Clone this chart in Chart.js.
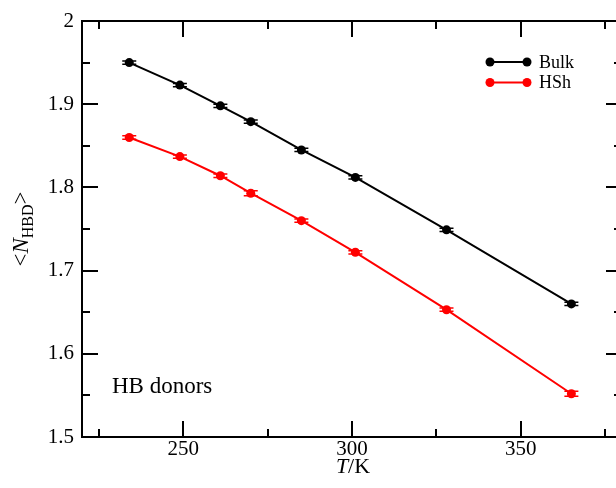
<!DOCTYPE html>
<html>
<head>
<meta charset="utf-8">
<script src="https://cdn.jsdelivr.net/npm/chart.js@4"></script>
<style>
    html, body {
        margin: 0;
        padding: 0;
        background: #ffffff;
        overflow: hidden;
    }
    .plot-box {
        width: 630px;   /* right frame sits just past the window edge */
        height: 488px;
        position: relative;
    }
</style>
</head>
<body>
<div class="plot-box">
    <canvas id="hbdChart"></canvas>
</div>
<script>
// temperatures (K)
const temps = [234, 249, 261, 270, 285, 301, 328, 365];
// average number of H-bond donors
const bulkHbd = [1.950, 1.923, 1.898, 1.879, 1.845, 1.812, 1.749, 1.660];
const hshHbd  = [1.860, 1.837, 1.814, 1.793, 1.760, 1.722, 1.653, 1.552];
// error bars
const bulkErr = [0.002, 0.002, 0.002, 0.002, 0.002, 0.002, 0.002, 0.002];
const hshErr  = [0.002, 0.002, 0.002, 0.003, 0.002, 0.002, 0.002, 0.003];

const xMajorTicks = [250, 300, 350];
const xMinorTicks = [225, 275, 325, 375];
const yMajorTicks = [1.5, 1.6, 1.7, 1.8, 1.9, 2];
const yMinorTicks = [1.55, 1.65, 1.75, 1.85, 1.95];

const seriesNames = ['Bulk', 'HSh'];
const noteText = 'HB donors';

const SERIF = "'Liberation Serif', 'Times New Roman', serif";

function toPoints(ys) {
    return temps.map((t, i) => ({ x: t, y: ys[i] }));
}

// frame, inward ticks on all four sides, error bars, legend and titles
const graceStyle = {
    id: 'graceStyle',
    afterDatasetsDraw(chart) {
        const ctx = chart.ctx;
        const xs = chart.scales.x;
        const ys = chart.scales.y;
        const errs = [bulkErr, hshErr];

        // error bars with caps
        chart.data.datasets.forEach((ds, di) => {
            ctx.save();
            ctx.strokeStyle = ds.borderColor;
            ctx.lineWidth = 1.5;
            ds.data.forEach((p, i) => {
                const px = xs.getPixelForValue(p.x);
                const yHi = ys.getPixelForValue(p.y + errs[di][i]);
                const yLo = ys.getPixelForValue(p.y - errs[di][i]);
                ctx.beginPath();
                ctx.moveTo(px, yHi); ctx.lineTo(px, yLo);
                ctx.moveTo(px - 7, yHi); ctx.lineTo(px + 7, yHi);
                ctx.moveTo(px - 7, yLo); ctx.lineTo(px + 7, yLo);
                ctx.stroke();
            });
            ctx.restore();
        });
    },
    afterDraw(chart) {
        const ctx = chart.ctx;
        const a = chart.chartArea;
        const xs = chart.scales.x;
        const ys = chart.scales.y;

        ctx.save();
        ctx.strokeStyle = '#000';
        ctx.lineWidth = 2;
        ctx.strokeRect(a.left, a.top, a.right - a.left, a.bottom - a.top);

        ctx.lineWidth = 2;
        ctx.beginPath();
        xMajorTicks.concat(xMinorTicks).forEach(v => {
            const len = xMajorTicks.includes(v) ? 16 : 8;
            const px = Math.round(xs.getPixelForValue(v));
            ctx.moveTo(px, a.bottom); ctx.lineTo(px, a.bottom - len);
            ctx.moveTo(px, a.top); ctx.lineTo(px, a.top + len);
        });
        yMajorTicks.concat(yMinorTicks).forEach(v => {
            const len = yMajorTicks.includes(v) ? 16 : 8;
            const py = Math.round(ys.getPixelForValue(v));
            ctx.moveTo(a.left, py); ctx.lineTo(a.left + len, py);
            ctx.moveTo(a.right, py); ctx.lineTo(a.right - len, py);
        });
        ctx.stroke();

        // legend
        ctx.textBaseline = 'middle';
        ctx.textAlign = 'left';
        ctx.font = '18px ' + SERIF;
        chart.data.datasets.forEach((ds, i) => {
            const ly = 62 + i * 20.5;
            ctx.strokeStyle = ds.borderColor;
            ctx.fillStyle = ds.borderColor;
            ctx.lineWidth = 2;
            ctx.beginPath();
            ctx.moveTo(490, ly); ctx.lineTo(527, ly);
            ctx.stroke();
            [490, 527].forEach(cx => {
                ctx.beginPath();
                ctx.arc(cx, ly, 4.5, 0, Math.PI * 2);
                ctx.fill();
            });
            ctx.fillStyle = '#000';
            ctx.fillText(ds.label, 539, ly + 1);
        });

        // note inside the plot
        ctx.font = '23px ' + SERIF;
        ctx.textBaseline = 'alphabetic';
        ctx.fillStyle = '#000';
        ctx.fillText(noteText, 112, 393);

        // x title: T/K
        ctx.font = 'italic 22px ' + SERIF;
        const tW = ctx.measureText('T').width;
        ctx.font = '22px ' + SERIF;
        const rW = ctx.measureText('/K').width;
        const x0 = (a.left + 622) / 2 - (tW + rW) / 2 + 1;
        ctx.font = 'italic 22px ' + SERIF;
        ctx.fillText('T', x0, 473);
        ctx.font = '22px ' + SERIF;
        ctx.fillText('/K', x0 + tW, 473);

        // y title: <N_HBD>
        ctx.translate(28, (a.top + a.bottom) / 2);
        ctx.rotate(-Math.PI / 2);
        const parts = [
            { t: '<', f: '23px ' + SERIF, dy: 0 },
            { t: 'N', f: 'italic 23px ' + SERIF, dy: 0 },
            { t: 'HBD', f: '16px ' + SERIF, dy: 5 },
            { t: '>', f: '23px ' + SERIF, dy: 0 }
        ];
        let total = 0;
        parts.forEach(p => { ctx.font = p.f; total += ctx.measureText(p.t).width; });
        let px = -total / 2;
        parts.forEach(p => {
            ctx.font = p.f;
            ctx.fillText(p.t, px, p.dy);
            px += ctx.measureText(p.t).width;
        });
        ctx.restore();
    }
};

const ctx = document.getElementById('hbdChart').getContext('2d');
new Chart(ctx, {
    type: 'line',
    data: {
        datasets: [
            {
                label: seriesNames[0],
                data: toPoints(bulkHbd),
                borderColor: '#000000',
                backgroundColor: '#000000',
                borderWidth: 2,
                pointRadius: 4.5,
                pointBorderWidth: 0,
                tension: 0
            },
            {
                label: seriesNames[1],
                data: toPoints(hshHbd),
                borderColor: '#ff0000',
                backgroundColor: '#ff0000',
                borderWidth: 2,
                pointRadius: 4.5,
                pointBorderWidth: 0,
                tension: 0
            }
        ]
    },
    options: {
        responsive: true,
        maintainAspectRatio: false,
        animation: false,
        events: [],
        layout: {
            padding: { top: 21, right: 8, left: 0, bottom: 0 }
        },
        plugins: {
            legend: { display: false },
            tooltip: { enabled: false }
        },
        scales: {
            x: {
                type: 'linear',
                min: 220,
                max: 380,
                grid: { display: false, drawTicks: false },
                border: { display: false },
                afterBuildTicks: scale => {
                    scale.ticks = xMajorTicks.map(v => ({ value: v }));
                },
                afterFit: scale => { scale.height = 51; },
                ticks: {
                    autoSkip: false,
                    maxRotation: 0,
                    padding: 0,
                    color: '#000',
                    font: { family: SERIF, size: 21 },
                    callback: v => String(v)
                }
            },
            y: {
                min: 1.5,
                max: 2,
                grid: { display: false, drawTicks: false },
                border: { display: false },
                afterBuildTicks: scale => {
                    scale.ticks = yMajorTicks.map(v => ({ value: v }));
                },
                afterFit: scale => { scale.width = 82; },
                ticks: {
                    autoSkip: false,
                    padding: 8,
                    color: '#000',
                    font: { family: SERIF, size: 21 },
                    callback: v => String(v)
                }
            }
        }
    },
    plugins: [graceStyle]
});
</script>
</body>
</html>
